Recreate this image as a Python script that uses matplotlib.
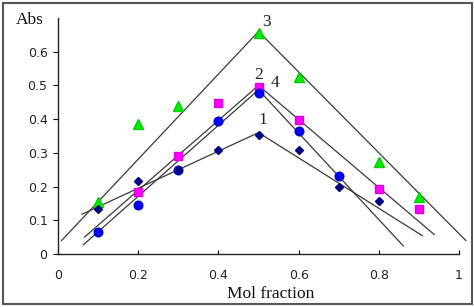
import numpy as np
import matplotlib.pyplot as plt
from matplotlib.patches import Rectangle

nan = np.nan
x = [0.1, 0.2, 0.3, 0.4, 0.5, 0.6, 0.7, 0.8, 0.9]

# measured points
abs1 = [0.134, 0.218, 0.25, 0.307, 0.353, 0.307, 0.200, 0.158, nan]   # series 1
abs2 = [nan, 0.185, 0.292, 0.447, 0.495, 0.396, nan, 0.193, 0.134]   # series 2
abs3 = [0.155, 0.386, 0.440, nan, 0.655, 0.525, nan, 0.272, 0.170]   # series 3
abs4 = [0.064, 0.146, 0.250, 0.395, 0.479, 0.365, 0.232, nan, nan]   # series 4

# fitted lines (left end, peak, right end)
fit1_x = [0.06, 0.5, 0.909]
fit1_y = [0.118, 0.36, 0.054]
fit2_x = [0.066, 0.5, 0.938]
fit2_y = [0.05, 0.50, 0.058]
fit3_x = [0.009, 0.5, 1.017]
fit3_y = [0.04, 0.66, 0.04]
fit4_x = [0.063, 0.5, 0.861]
fit4_y = [0.027, 0.487, 0.024]

labels = ["1", "2", "3", "4"]
label_x = [0.511, 0.501, 0.521, 0.541]
label_y = [0.398, 0.532, 0.689, 0.508]

fig = plt.figure(figsize=(4.74, 3.07), dpi=100)
ax = fig.add_axes([58 / 474, 53 / 307, 401 / 474, 236 / 307])

line_kw = dict(color="#3a3a3a", lw=0.9, clip_on=False, zorder=2)
for fx, fy in [(fit1_x, fit1_y), (fit2_x, fit2_y), (fit3_x, fit3_y), (fit4_x, fit4_y)]:
    ax.plot(fx, fy, **line_kw)

ax.plot(x, abs3, "^", color="#00ee00", ms=7.5, mec="#00cc00", zorder=3, clip_on=False)
ax.plot(x, abs2, "s", color="#ff00ff", ms=5.2, mec="#dd00dd", zorder=4)
ax.plot(x, abs4, "o", color="#0000ff", ms=6.2, mec="#0000cc", zorder=5)
ax.plot(x, abs1, "D", color="#000080", ms=4.3, zorder=6)

for t, lx, ly in zip(labels, label_x, label_y):
    ax.text(lx, ly, t, fontsize=12.5, family="Liberation Serif",
            ha="center", va="center", color="#222222")

ax.set_xlim(0, 1)
ax.set_ylim(0, 0.70)
ax.set_xticks([0, 0.2, 0.4, 0.6, 0.8, 1])
ax.set_xticklabels(["0", "0.2", "0.4", "0.6", "0.8", "1"])
ax.set_yticks([0, 0.1, 0.2, 0.3, 0.4, 0.5, 0.6])
ax.set_yticklabels(["0", "0.1", "0.2", "0.3", "0.4", "0.5", "0.6"])

for s in ["top", "right"]:
    ax.spines[s].set_visible(False)
for s in ["left", "bottom"]:
    ax.spines[s].set_linewidth(1.0)
    ax.spines[s].set_color("#222222")

ax.tick_params(axis="x", direction="in", length=3, pad=11,
               labelsize=9, labelcolor="#222222")
ax.tick_params(axis="y", direction="out", length=3.5, pad=4,
               labelsize=9, labelcolor="#222222")
for lab in ax.get_xticklabels() + ax.get_yticklabels():
    lab.set_family("DejaVu Sans")

fig.text(270.5 / 474, (307 - 298) / 307, "Mol fraction", family="Liberation Serif",
         fontsize=12.5, ha="center", va="baseline", color="#111111")
fig.text(30 / 474, (307 - 24) / 307, "Abs", family="Liberation Serif",
         fontsize=12.5, ha="center", va="baseline", color="#111111")

fig.add_artist(Rectangle((3 / 474, 3 / 307), 469 / 474, 301 / 307,
                         transform=fig.transFigure, fill=False,
                         edgecolor="#555555", lw=1.5))

fig.savefig("out.png", dpi=100)
